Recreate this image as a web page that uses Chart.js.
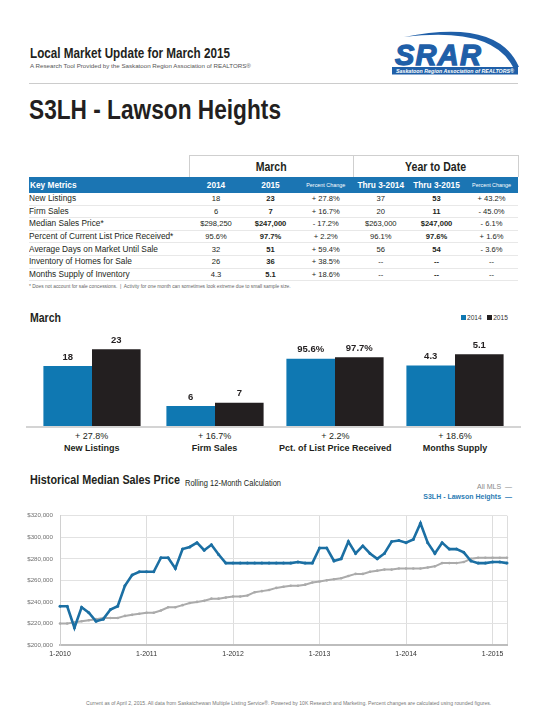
<!DOCTYPE html>
<html><head><meta charset="utf-8">
<script src="https://cdn.jsdelivr.net/npm/chart.js@4.4.1/dist/chart.umd.min.js"></script>
<style>
html,body{margin:0;padding:0;background:#fff;}
#page{position:relative;width:560px;height:724px;overflow:hidden;font-family:"Liberation Sans",Arial,sans-serif;color:#231f20;}
.abs{position:absolute;white-space:nowrap;}
.cond{font-family:"Liberation Sans",Arial,sans-serif;font-weight:bold;display:inline-block;white-space:nowrap;}
.cl{transform-origin:0 50%;}
table.km{position:absolute;left:29px;top:155px;width:489px;border-collapse:collapse;table-layout:fixed;}
table.km td{padding:0;white-space:nowrap;overflow:hidden;text-align:center;font-size:7.6px;height:11.6px;line-height:11px;border-bottom:1px solid #e8e8e8;}
table.km td.lab{text-align:left;font-size:8.3px;}
table.km td.b{font-weight:bold;}
table.km tr.top td{height:21px;border-bottom:none;font-size:13px;line-height:21px;overflow:visible;}
table.km tr.top td.box{border:1px solid #cfcfcf;border-bottom:none;}
table.km tr.hdr td{background:#1b75b3;color:#fff;font-weight:bold;font-size:8.3px;height:16px;line-height:16px;border-bottom:none;}
table.km tr.hdr td.pc{font-weight:normal;font-size:5.4px;}
.barlab{position:absolute;width:130px;text-align:center;white-space:nowrap;}
canvas{position:absolute;}
</style>
</head>
<body>
<div id="page">
  <div class="abs" style="left:30px;top:44px;"><span class="cond cl" data-w="200" style="font-size:14.8px;line-height:16px;">Local Market Update for March 2015</span></div>
  <div class="abs" style="left:30px;top:62px;font-size:6.2px;line-height:8px;color:#555;">A Research Tool Provided by the Saskatoon Region Association of REALTORS®</div>
  <svg class="abs" style="left:388px;top:26px" width="134" height="52" viewBox="0 0 134 52">
    <path d="M 16 11 Q 110 -8 131 41 L 125 41 Q 104 0 16 11 Z" fill="#1f5fa8"/>
    <text x="7" y="39" font-family="Liberation Sans, Arial, sans-serif" font-weight="bold" font-style="italic" font-size="29" fill="#1f5fa8" stroke="#1f5fa8" stroke-width="1.3" textLength="86">SRAR</text>
    <rect x="4" y="41" width="126" height="7.5" fill="#1f5fa8"/>
    <text x="67" y="46.8" text-anchor="middle" font-size="5.3" font-weight="bold" font-style="italic" fill="#fff" font-family="Liberation Sans, Arial, sans-serif">Saskatoon Region Association of REALTORS®</text>
  </svg>
  <div class="abs" style="left:29px;top:83px;width:489px;height:1px;background:#cccccc;"></div>
  <div class="abs" style="left:29px;top:95px;"><span class="cond cl" data-w="252" style="font-size:27px;line-height:30px;">S3LH - Lawson Heights</span></div>

  <table class="km" id="kmTable"></table>
  <div class="abs" style="left:29px;top:284px;font-size:4.9px;line-height:6px;color:#666;">* Does not account for sale concessions.&nbsp; |&nbsp; Activity for one month can sometimes look extreme due to small sample size.</div>

  <div class="abs" style="left:30px;top:308px;"><span class="cond cl" data-w="31" style="font-size:13px;line-height:16px;">March</span></div>
  <div class="abs" style="left:461px;top:314px;font-size:6.6px;line-height:8px;color:#333;"><span style="display:inline-block;width:5px;height:5px;background:#0f78b2;margin-right:1px;"></span>2014&nbsp;&nbsp;&nbsp;<span style="display:inline-block;width:5px;height:5px;background:#231f20;margin-right:1px;"></span>2015</div>

  <canvas id="bar0" width="120" height="100" style="left:31.7px;top:326px;"></canvas>
  <canvas id="bar1" width="120" height="100" style="left:154.6px;top:326px;"></canvas>
  <canvas id="bar2" width="120" height="100" style="left:275.3px;top:326px;"></canvas>
  <canvas id="bar3" width="120" height="100" style="left:395px;top:326px;"></canvas>
  <div class="abs" style="left:26px;top:426px;width:495px;height:2px;background:#d4d4d4;"></div>
  <div id="barLabels"></div>

  <div class="abs" style="left:30px;top:470px;"><span class="cond cl" data-w="150" style="font-size:13.3px;line-height:16px;">Historical Median Sales Price</span></div>
  <div class="abs" style="left:185px;top:472px;"><span class="cond cl" data-w="96" style="font-weight:normal;font-size:8.6px;line-height:12px;">Rolling 12-Month Calculation</span></div>
  <div class="abs" style="right:48px;top:483px;font-size:7px;line-height:8px;color:#8a8a8a;">All MLS&nbsp; —</div>
  <div class="abs" style="right:48px;top:493px;font-size:7px;line-height:8px;color:#2b7cb4;font-weight:bold;">S3LH - Lawson Heights&nbsp; —</div>
  <canvas id="line" width="512" height="156" style="left:0px;top:505px;"></canvas>

  <div class="abs" style="left:86px;top:700px;font-size:5.1px;line-height:6px;color:#777;">Current as of April 2, 2015. All data from Saskatchewan Multiple Listing Service®. Powered by 10K Research and Marketing. Percent changes are calculated using rounded figures.</div>
</div>
<script>
// ---- Table data ----
const metrics = ["New Listings","Firm Sales","Median Sales Price*","Percent of Current List Price Received*","Average Days on Market Until Sale","Inventory of Homes for Sale","Months Supply of Inventory"];
const march2014 = ["18","6","$298,250","95.6%","32","26","4.3"];
const march2015 = ["23","7","$247,000","97.7%","51","36","5.1"];
const marchChange = ["+ 27.8%","+ 16.7%","- 17.2%","+ 2.2%","+ 59.4%","+ 38.5%","+ 18.6%"];
const ytd2014 = ["37","20","$263,000","96.1%","56","--","--"];
const ytd2015 = ["53","11","$247,000","97.6%","54","--","--"];
const ytdChange = ["+ 43.2%","- 45.0%","- 6.1%","+ 1.6%","- 3.6%","--","--"];

// ---- Bar chart data ----
const barGroups = ["New Listings","Firm Sales","Pct. of List Price Received","Months Supply"];
const bar2014 = [18, 6, 95.6, 4.3];
const bar2015 = [23, 7, 97.7, 5.1];
const barText2014 = ["18","6","95.6%","4.3"];
const barText2015 = ["23","7","97.7%","5.1"];
const barChanges = ["+ 27.8%","+ 16.7%","+ 2.2%","+ 18.6%"];
const barCenters = [91.7, 214.6, 335.3, 455];

// ---- Line chart data (Jan 2010 - Mar 2015) ----
const years = ["2010","2011","2012","2013","2014","2015"];
const allMLS = [
  220,220,221,222,223,224,225,225,225,227,228,229,
  230,230,232,235,235,237,239,240,241,243,243,244,
  245,245,246,249,250,251,253,254,255,255,256,258,
  259,260,261,262,264,266,266,268,269,270,270,271,
  271,271,271,272,273,276,276,276,277,280,281,281,
  281,281,281
];
const lawsonHeights = [
  236,236,216,235,230,222,224,233,236,255,265,268,
  268,268,281,281,271,289,291,295,288,293,284,276,
  276,276,276,276,276,276,276,276,276,277,276,276,
  290,290,278,280,296,285,292,285,280,285,296,297,
  295,298,313,295,285,295,289,289,286,278,276,276,
  277,277,276
];
const yTicks = [200000,220000,240000,260000,280000,300000,320000];

// build table
(function(){
  const t = document.getElementById('kmTable');
  let h = '<colgroup><col style="width:160px"><col style="width:54px"><col style="width:55px"><col style="width:55.5px"><col style="width:54.5px"><col style="width:57px"><col style="width:53px"></colgroup>';
  h += '<tr class="top"><td></td><td colspan="3" class="box"><span class="cond" data-w="31">March</span></td><td colspan="3" class="box"><span class="cond" data-w="61">Year to Date</span></td></tr>';
  h += '<tr class="hdr"><td class="lab" style="font-size:8.3px;padding-left:1px;">Key Metrics</td><td>2014</td><td>2015</td><td class="pc">Percent Change</td><td>Thru 3-2014</td><td>Thru 3-2015</td><td class="pc">Percent Change</td></tr>';
  for (let i=0;i<metrics.length;i++){
    h += '<tr><td class="lab">'+metrics[i]+'</td><td>'+march2014[i]+'</td><td class="b">'+march2015[i]+'</td><td>'+marchChange[i]+'</td><td>'+ytd2014[i]+'</td><td class="b">'+ytd2015[i]+'</td><td>'+ytdChange[i]+'</td></tr>';
  }
  t.innerHTML = h;
})();

// condensed headings: squeeze horizontally to the reference widths
document.querySelectorAll('[data-w]').forEach(el => {
  const w = el.getBoundingClientRect().width;
  const target = parseFloat(el.getAttribute('data-w'));
  if (w > 0) el.style.transform = 'scaleX(' + (target / w) + ')';
});

// bar labels
(function(){
  const c = document.getElementById('barLabels');
  let h='';
  for (let i=0;i<barGroups.length;i++){
    h += '<div class="barlab" style="left:'+(barCenters[i]-65)+'px;top:431px;font-size:9px;line-height:10px;">'+barChanges[i]+'</div>';
    h += '<div class="barlab" style="left:'+(barCenters[i]-65)+'px;top:442.5px;font-size:9px;line-height:11px;font-weight:bold;">'+barGroups[i]+'</div>';
  }
  c.innerHTML = h;
})();

const valueLabelPlugin = {
  id: 'valueLabels',
  afterDatasetsDraw(chart) {
    const ctx = chart.ctx;
    ctx.save();
    ctx.font = 'bold 9.5px "Liberation Sans", Arial, sans-serif';
    ctx.fillStyle = '#231f20';
    ctx.textAlign = 'center';
    ctx.textBaseline = 'middle';
    chart.data.datasets.forEach((ds, di) => {
      const meta = chart.getDatasetMeta(di);
      meta.data.forEach((el, i) => {
        ctx.fillText(ds.texts[i], el.x, el.y - 9);
      });
    });
    ctx.restore();
  }
};

const barMax = [30, 30, 142, 7.1];
for (let g=0; g<barGroups.length; g++){
  new Chart(document.getElementById('bar'+g), {
    type: 'bar',
    data: {
      labels: [barGroups[g]],
      datasets: [
        {label:'2014', data:[bar2014[g]], texts:[barText2014[g]], backgroundColor:'#0f78b2', borderWidth:0},
        {label:'2015', data:[bar2015[g]], texts:[barText2015[g]], backgroundColor:'#231f20', borderWidth:0}
      ]
    },
    options: {
      responsive:false, animation:false,
      layout:{padding:0},
      plugins:{legend:{display:false}, tooltip:{enabled:false}},
      categoryPercentage:0.81, barPercentage:1.0,
      scales:{
        x:{display:false},
        y:{display:false, min:0, max:barMax[g]}
      }
    },
    plugins:[valueLabelPlugin]
  });
}

// line chart
const monthLabels = [];
years.forEach(y => { for (let m=1;m<=12;m++) monthLabels.push(m+'-'+y); });
monthLabels.length = allMLS.length;

new Chart(document.getElementById('line'), {
  type:'line',
  data:{
    labels: monthLabels,
    datasets:[
      {label:'S3LH - Lawson Heights', data: lawsonHeights.map(v=>v*1000), borderColor:'#1b6fa3', backgroundColor:'#1b6fa3', borderWidth:2.6, pointRadius:1.5, pointBorderWidth:0, tension:0},
      {label:'All MLS', data: allMLS.map(v=>v*1000), borderColor:'#ababab', backgroundColor:'#ababab', borderWidth:2, pointRadius:1.3, pointBorderWidth:0, tension:0}
    ]
  },
  options:{
    responsive:false, animation:false,
    layout:{padding:{top:9,right:4,left:0,bottom:0}},
    plugins:{legend:{display:false}, tooltip:{enabled:false}},
    scales:{
      x:{
        type:'category', offset:false,
        afterFit(scale){ scale.height = 16; },
        grid:{drawTicks:false, color:(c)=> (c.index%12===0 || c.index===62) ? '#dddddd' : 'rgba(0,0,0,0)', lineWidth:1},
        border:{display:true, color:'#bdbdbd', width:2},
        ticks:{autoSkip:false, maxRotation:0, padding:5, color:'#333', font:{family:'"Liberation Sans", Arial, sans-serif', size:6.9},
          callback:function(v){ const l=this.getLabelForValue(v); return l.indexOf('1-')===0 ? l : ''; }}
      },
      y:{
        min:200000, max:320000,
        afterFit(scale){ scale.width = 60; },
        afterBuildTicks(scale){ scale.ticks = yTicks.map(v=>({value:v})); },
        grid:{drawTicks:false, color:'#e2e2e2', lineWidth:1},
        border:{display:true, color:'#d0d0d0', width:1},
        ticks:{padding:7, color:'#707070', font:{family:'"Liberation Sans", Arial, sans-serif', size:6.2},
          callback:(v)=> '$' + Number(v).toLocaleString('en-US')}
      }
    }
  }
});
</script>
</body></html>
